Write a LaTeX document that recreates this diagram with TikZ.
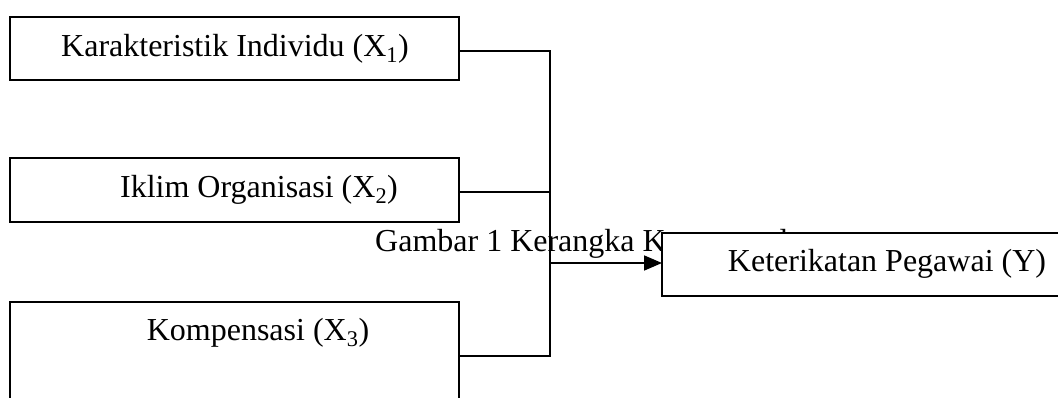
\documentclass[tikz,border=0pt]{standalone}
\usepackage{fontspec}
\setmainfont{Liberation Serif}
\usetikzlibrary{arrows.meta}
\begin{document}
\begin{tikzpicture}[x=1pt,y=-1pt,
  box/.style={draw=black, fill=white, line width=1.8pt, inner sep=0pt, outer sep=0pt},
  lbl/.style={inner sep=0pt, font=\fontsize{32}{38}\selectfont},
  conn/.style={draw=black, line width=1.8pt}]
\useasboundingbox (0,0) rectangle (1058,398);
% caption (partly hidden behind box Y)
\node[lbl, anchor=base west] (cap) at (375,252) {Gambar 1 Kerangka Konseptual};
% boxes
\node[box, minimum width=449pt, minimum height=63pt] (b1) at (234.5,48.5) {};
\node[box, minimum width=449pt, minimum height=64pt] (b2) at (234.5,190) {};
\node[box, minimum width=449pt, minimum height=118pt] (b3) at (234.5,361) {};
\node[box, minimum width=420pt, minimum height=63pt, anchor=west] (by) at (662,264.5) {};
% texts
\node[lbl] (t1) at (235,49) {Karakteristik Individu (X\textsubscript{1})};
\node[lbl] (t2) at (259,190) {Iklim Organisasi (X\textsubscript{2})};
\node[lbl] (t3) at (258,333) {Kompensasi (X\textsubscript{3})};
\node[lbl] (ty) at (887,264) {Keterikatan Pegawai (Y)};
% junction coordinates
\coordinate (j1) at (550,51);
\coordinate (j2) at (550,192);
\coordinate (j3) at (550,356);
\coordinate (ja) at (550,263);
% connectors
\draw[conn] (b1.east |- j1) -- (j1) -- (j3) -- (b3.east |- j3);
\draw[conn] (b2.east |- j2) -- (j2);
\draw[conn, -{Triangle[length=18pt,width=15pt]}] (ja) -- (by.west |- ja);
\end{tikzpicture}
\end{document}
